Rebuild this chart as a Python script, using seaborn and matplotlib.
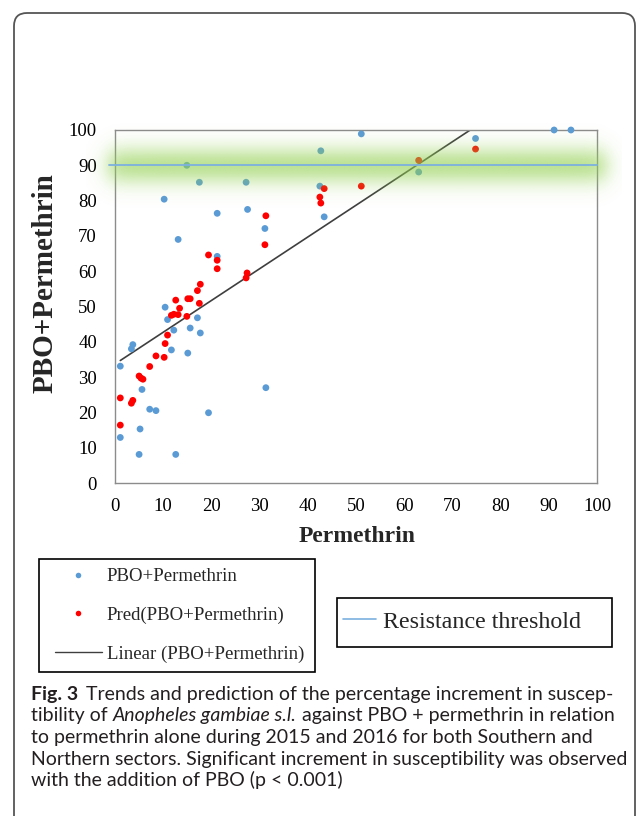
import numpy as np
import pandas as pd
import matplotlib
matplotlib.use("Agg")
import matplotlib.pyplot as plt
import seaborn as sns
from matplotlib.lines import Line2D
from matplotlib.patches import FancyBboxPatch, Rectangle
from matplotlib.transforms import IdentityTransform

# ---------------- data ----------------
blue_x = [1.1, 1.1, 3.4, 3.7, 5.0, 5.2, 5.6, 7.2, 8.5, 10.4, 10.9, 11.7, 12.2, 12.6, 15.1, 15.6,
          17.1, 17.7, 19.4, 31.3, 10.2, 14.9, 17.5, 13.1, 21.2, 21.2, 27.2, 27.5, 31.1, 42.7,
          42.5, 43.4, 51.1, 63.0, 74.8, 91.1, 94.6]
blue_y = [33.1, 12.9, 38.0, 39.2, 8.1, 15.3, 26.5, 20.9, 20.5, 49.8, 46.3, 37.7, 43.3, 8.1, 36.8, 43.9,
          46.8, 42.5, 19.9, 27.0, 80.4, 90.0, 85.2, 69.0, 76.4, 64.2, 85.2, 77.5, 72.1, 94.1,
          84.1, 75.4, 98.9, 88.1, 97.6, 100.0, 100.0]
red_x = [1.1, 1.1, 3.4, 3.7, 5.0, 5.4, 5.8, 7.2, 8.5, 10.2, 10.4, 10.9, 11.7, 12.2, 12.6, 13.1,
         13.4, 14.9, 15.1, 15.6, 17.1, 17.5, 17.7, 19.4, 21.2, 21.2, 27.4, 27.2, 31.3, 31.1,
         43.4, 42.5, 42.7, 51.1, 63.0, 74.8]
red_y = [24.1, 16.4, 22.6, 23.4, 30.3, 29.7, 29.4, 33.0, 36.0, 35.6, 39.5, 41.9, 47.5, 47.8, 51.8, 47.7,
         49.5, 47.2, 52.2, 52.2, 54.5, 50.9, 56.3, 64.6, 63.1, 60.7, 59.5, 58.1, 75.7, 67.5,
         83.4, 81.0, 79.3, 84.1, 91.4, 94.6]
trend_x = [1.1, 73.7]
trend_y = [34.7, 100.0]
threshold = 90
ticks = list(range(0, 101, 10))

s_blue = "PBO+Permethrin"
s_red = "Pred(PBO+Permethrin)"
s_lin = "Linear (PBO+Permethrin)"
s_thr = "Resistance threshold"

df_blue = pd.DataFrame({"x": blue_x, "y": blue_y})
df_red = pd.DataFrame({"x": red_x, "y": red_y})
df_trend = pd.DataFrame({"x": trend_x, "y": trend_y})

# ---------------- figure ----------------
sns.set_style("white")
W, H = 637, 816
fig = plt.figure(figsize=(W / 100, H / 100), dpi=100)
serif = "Liberation Serif"

L, R, T, B = 115, 597, 130, 483
ax = fig.add_axes([L / W, 1 - B / H, (R - L) / W, (B - T) / H])

BLUE = "#5b9bd5"
RED = "#ff0000"
GRAY = "#8c8c8c"

sns.lineplot(data=df_trend, x="x", y="y", ax=ax, color="#3f3f3f", lw=1.2, zorder=2, legend=False)
sns.scatterplot(data=df_blue, x="x", y="y", ax=ax, color=BLUE, s=24, edgecolor="none",
                zorder=3, clip_on=False, legend=False)
sns.scatterplot(data=df_red, x="x", y="y", ax=ax, color=RED, s=24, edgecolor="none",
                zorder=3, clip_on=False, legend=False)

# green glow around threshold
gx = np.linspace(-6, 105, 600)
gy = np.linspace(78, 102, 240)
ax_alpha = 1 / (1 + np.exp(-(gx + 1.5) / 1.2)) * 1 / (1 + np.exp((gx - 101.8) / 1.2))
ay_alpha = np.exp(-0.5 * ((gy - threshold) / 3.8) ** 2)
alpha = 0.6 * np.outer(ay_alpha, ax_alpha)
img = np.zeros((len(gy), len(gx), 4))
img[..., 0] = 146 / 255
img[..., 1] = 208 / 255
img[..., 2] = 80 / 255
img[..., 3] = alpha
ax.imshow(img, extent=[gx[0], gx[-1], gy[0], gy[-1]], origin="lower", aspect="auto",
          zorder=4, clip_on=False, interpolation="bilinear")
ax.axhline(threshold, xmin=-0.012, xmax=1.0, color="#7cb0e0", lw=1.3, zorder=5, clip_on=False)

ax.set_xlim(0, 100)
ax.set_ylim(0, 100)
ax.set_xticks(ticks)
ax.set_yticks(ticks)
ax.set_xticklabels([str(t) for t in ticks], fontsize=13.5, family=serif)
ax.set_yticklabels([str(t) for t in ticks], fontsize=13.5, family=serif)
ax.tick_params(axis="both", direction="inout", length=10, width=1, color=GRAY, labelcolor="black")
ax.tick_params(axis="y", pad=8)
ax.tick_params(axis="x", pad=6)
ax.set_xlabel("")
ax.set_ylabel("")
for sp in ax.spines.values():
    sp.set_visible(True)
    sp.set_color(GRAY)
    sp.set_linewidth(1.0)

fig.text(45 / W, 1 - 283 / H, "PBO+Permethrin", rotation=90, ha="center", va="center",
         fontsize=21, fontweight="bold", family=serif)
fig.text(357 / W, 1 - 537 / H, "Permethrin", ha="center", va="center",
         fontsize=17, fontweight="bold", family=serif)

# outer rounded frame
ident = IdentityTransform()
frame = FancyBboxPatch((14, -60), 621, H - 13 + 60, boxstyle="round,pad=0,rounding_size=13",
                       transform=ident, fill=False, edgecolor="#555555", lw=1.3)
fig.add_artist(frame)

# legend boxes
fig.add_artist(Rectangle((39, H - 672), 276, 113, transform=ident, fill=False,
                         edgecolor="black", lw=1.2))
fig.add_artist(Rectangle((337, H - 647), 275, 49, transform=ident, fill=False,
                         edgecolor="black", lw=1.2))

h1 = [Line2D([], [], ls="none", marker="o", ms=4, mfc=BLUE, mec="none"),
      Line2D([], [], ls="none", marker="o", ms=4, mfc=RED, mec="none"),
      Line2D([], [], color="#3f3f3f", lw=1.0)]
leg1 = fig.legend(h1, [s_blue, s_red, s_lin], loc="upper left",
                  bbox_to_anchor=(55, H - 568), bbox_transform=ident, frameon=False,
                  borderpad=0, borderaxespad=0, handlelength=2.5, handletextpad=0.27,
                  labelspacing=1.15, prop={"family": serif, "size": 13.5})
h2 = [Line2D([], [], color="#7cb0e0", lw=1.2)]
leg2 = fig.legend(h2, [s_thr], loc="upper left", bbox_to_anchor=(343, H - 611),
                  bbox_transform=ident, frameon=False, borderpad=0, borderaxespad=0,
                  handlelength=1.36, handletextpad=0.3, prop={"family": serif, "size": 17.3})

# caption
cap_font = ["Lato", "DejaVu Sans"]
fig.canvas.draw()
renderer = fig.canvas.get_renderer()


def width_of(text, size, **kw):
    t = fig.text(0, 0, text, fontsize=size, family=cap_font, **kw)
    w = t.get_window_extent(renderer).width
    t.remove()
    return w


ref_line = "Northern sectors. Significant increment in susceptibility was observed"
size = 10 * 596 / width_of(ref_line, 10)
space = width_of("a a", size) - width_of("aa", size)

lines = [
    [("Fig. 3", {"fontweight": "bold"}), ("  ", None),
     ("Trends and prediction of the percentage increment in suscep-", {})],
    [("tibility of", {}), (" ", None), ("Anopheles gambiae s.l.", {"style": "italic"}), (" ", None),
     ("against PBO + permethrin in relation", {})],
    [("to permethrin alone during 2015 and 2016 for both Southern and", {})],
    [(ref_line, {})],
    [("with the addition of PBO (p < 0.001)", {})],
]
baselines = [700, 721.5, 743, 764.5, 786]
for runs, yb in zip(lines, baselines):
    x = 31
    for text, kw in runs:
        if kw is None:
            x += space * len(text) * (0.8 if len(text) > 1 else 1)
            continue
        t = fig.text(x / W, 1 - yb / H, text, fontsize=size, family=cap_font, va="baseline",
                     color="#231f20", **kw)
        x += t.get_window_extent(renderer).width

fig.savefig("out.png", dpi=100)
